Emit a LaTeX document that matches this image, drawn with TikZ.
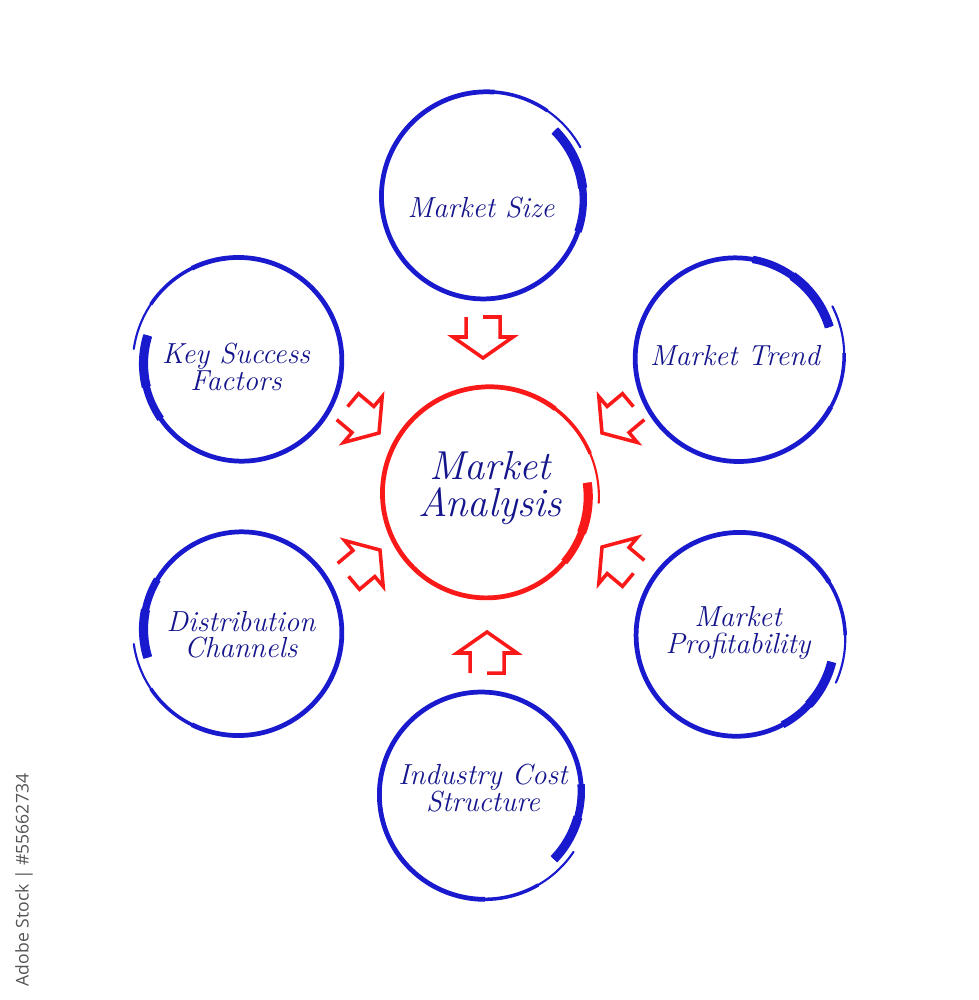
\documentclass[tikz,border=0pt]{standalone}
\usepackage{fontspec}
\usepackage{tikz}
\newfontfamily\marksans{Open Sans}

\definecolor{ringblue}{RGB}{25,25,205}
\definecolor{ringred}{RGB}{250,25,25}
\definecolor{labelblue}{RGB}{20,20,140}
\definecolor{markgray}{RGB}{85,85,85}

% brush ring: x, y, radius, start angle, sweep, thick part, colour
\newcommand{\brushring}[7]{%
  \draw[#7, line width=2.7pt] plot[domain=0:0.85, samples=90, smooth]
    ({#1+(#3-5+11*\x)*cos(#4+#5*\x)}, {#2+(#3-5+11*\x)*sin(#4+#5*\x)});
  \draw[#7, line width=2pt] plot[domain=0.845:0.93, samples=15, smooth]
    ({#1+(#3-5+11*\x)*cos(#4+#5*\x)}, {#2+(#3-5+11*\x)*sin(#4+#5*\x)});
  \draw[#7, line width=1.2pt, line cap=round] plot[domain=0.925:1, samples=15, smooth]
    ({#1+(#3-5+11*\x)*cos(#4+#5*\x)}, {#2+(#3-5+11*\x)*sin(#4+#5*\x)});
  \draw[#7, line width=4.2pt] plot[domain=0:#6, samples=25, smooth]
    ({#1+(#3-5+11*\x)*cos(#4+#5*\x)}, {#2+(#3-5+11*\x)*sin(#4+#5*\x)});
  \draw[#7, line width=5.2pt] plot[domain=0:0.6*#6, samples=20, smooth]
    ({#1+(#3-5+11*\x)*cos(#4+#5*\x)}, {#2+(#3-5+11*\x)*sin(#4+#5*\x)});
}

\tikzset{
  ringtext/.style={text=labelblue, align=center,
    font=\itshape\fontsize{16.5}{15}\selectfont},
  pics/inarrow/.style={code={
    \draw[ringred, line width=2pt]
      (-41,0) -- (-41,17) -- (-21,17) -- (-21,30) -- (0,0)
      -- (-21,-30) -- (-21,-17) -- (-41,-17);
  }}
}

\begin{document}
\begin{tikzpicture}[x=0.02cm, y=0.02cm]
\fill[white] (0,0) rectangle (978,-1000);
\useasboundingbox (0,0) rectangle (978,-1000);

% rings
\brushring{485}{-198}{102}{44}{-376}{0.17}{ringblue}
\brushring{737}{-357}{102}{18}{370}{0.17}{ringblue}
\brushring{738}{-637}{102}{-15}{-370}{0.13}{ringblue}
\brushring{483}{-793}{102}{-43}{370}{0.13}{ringblue}
\brushring{240}{-631}{101}{196}{-369}{0.13}{ringblue}
\brushring{240}{-362}{101}{164}{369}{0.14}{ringblue}
\brushring{488}{-495}{105}{7}{-371}{0.13}{ringred}

% labels
\node[ringtext] (size) at (481,-208) {Market Size};
\node[ringtext] (trend) at (735,-356) {Market Trend};
\node[ringtext] (key) at (236,-367) {Key Success\\Factors};
\node[ringtext] (dist) at (241,-635) {Distribution\\Channels};
\node[ringtext] (profit) at (738,-633) {Market\\Profitability};
\node[ringtext] (cost) at (483,-788) {Industry Cost\\Structure};
\node[ringtext, font=\itshape\fontsize{23}{21.5}\selectfont] (analysis) at (490,-488) {Market\\Analysis};

% arrows into the centre
\pic[rotate=-90] at (483,-358) {inarrow};
\pic[rotate=90, yscale=-1] at (487,-632) {inarrow};
\pic[rotate=-40] at (379,-433) {inarrow};
\pic[rotate=220, yscale=-1] at (602,-433) {inarrow};
\pic[rotate=40, yscale=-1] at (380,-550) {inarrow};
\pic[rotate=140] at (602,-547) {inarrow};

\node[rotate=90, text=markgray, font=\marksans\fontsize{10}{12}\selectfont] (stockmark) at (24,-880) {Adobe Stock | \#55662734};
\end{tikzpicture}
\end{document}
